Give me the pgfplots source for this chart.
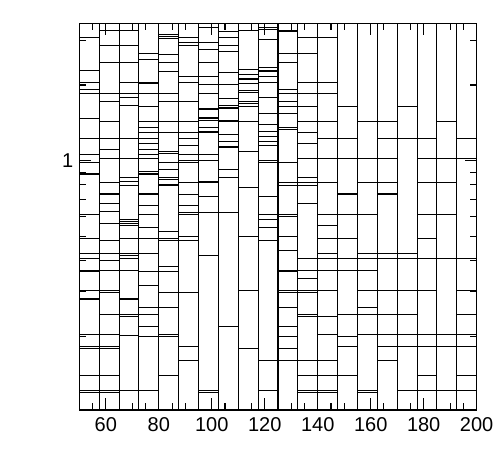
\documentclass[border=0pt]{standalone}
\usepackage{fontspec}
\setmainfont{Liberation Sans}
\usepackage{pgfplots}
\pgfplotsset{compat=1.18}
\pgfplotsset{strip/.style={only marks, mark size=0pt, mark options={draw=none,fill=none}, black,
  error bars/.cd, x dir=both, x fixed=3.75, error mark=none,
  error bar style={line width=0.8pt, black, solid}}}
\begin{document}
\begin{tikzpicture}
\path[use as bounding box] (-59.5pt,-46.5pt) rectangle (312.5pt,307.5pt);
\begin{axis}[
  at={(0,0)}, anchor=south west,
  scale only axis, width=298pt, height=290pt,
  xmin=50, xmax=200, ymin=0.1015, ymax=3.52, ymode=log,
  xtick={60,80,...,200},
  minor xtick={55,65,70,75,85,90,95,105,110,115,125,130,135,145,150,155,165,170,175,185,190,195},
  ytick={1}, yticklabels={1},
  minor ytick={0.2,0.3,0.4,0.5,0.6,0.7,0.8,0.9,2,3},
  major tick length=9pt, minor tick length=4.9pt,
  tick style={black, line width=0.8pt},
  axis line style={line width=0.9pt},
  tick label style={font=\fontsize{15}{18}\selectfont},
  xticklabel style={yshift=-2pt},
  yticklabel style={xshift=-1pt},
  /pgf/number format/assume math mode=true,
  unbounded coords=jump,
]
% strip boundaries
\addplot[black, line width=0.8pt] coordinates {
(57.5,0.1015) (57.5,3.52) (57.5,nan)
(65,0.1015) (65,3.52) (65,nan)
(72.5,0.1015) (72.5,3.52) (72.5,nan)
(80,0.1015) (80,3.52) (80,nan)
(87.5,0.1015) (87.5,3.52) (87.5,nan)
(95,0.1015) (95,3.52) (95,nan)
(102.5,0.1015) (102.5,3.52) (102.5,nan)
(110,0.1015) (110,3.52) (110,nan)
(117.5,0.1015) (117.5,3.52) (117.5,nan)
(125,0.1015) (125,3.52) (125,nan)
(132.5,0.1015) (132.5,3.52) (132.5,nan)
(140,0.1015) (140,3.52) (140,nan)
(147.5,0.1015) (147.5,3.52) (147.5,nan)
(155,0.1015) (155,3.52) (155,nan)
(162.5,0.1015) (162.5,3.52) (162.5,nan)
(170,0.1015) (170,3.52) (170,nan)
(177.5,0.1015) (177.5,3.52) (177.5,nan)
(185,0.1015) (185,3.52) (185,nan)
(192.5,0.1015) (192.5,3.52)
};
% strip 1
\addplot[strip] coordinates {(53.75,3.104) (53.75,2.279) (53.75,2.050) (53.75,1.926) (53.75,1.855) (53.75,1.476) (53.75,1.228) (53.75,1.055) (53.75,0.984) (53.75,0.884) (53.75,0.608) (53.75,0.490) (53.75,0.427) (53.75,0.408) (53.75,0.364) (53.75,0.360) (53.75,0.304) (53.75,0.281) (53.75,0.2032) (53.75,0.1824) (53.75,0.1789) (53.75,0.1397) (53.75,0.1219) (53.75,0.1195)};
% strip 2
\addplot[strip] coordinates {(61.25,3.302) (61.25,2.877) (61.25,2.461) (61.25,1.855) (61.25,1.721) (61.25,1.432) (61.25,1.228) (61.25,1.111) (61.25,1.022) (61.25,0.819) (61.25,0.736) (61.25,0.677) (61.25,0.627) (61.25,0.562) (61.25,0.482) (61.25,0.427) (61.25,0.399) (61.25,0.364) (61.25,0.304) (61.25,0.299) (61.25,0.2445) (61.25,0.2032) (61.25,0.1824) (61.25,0.1789) (61.25,0.1397) (61.25,0.1219) (61.25,0.1195)};
% strip 3
\addplot[strip] coordinates {(68.75,3.302) (68.75,2.877) (68.75,2.461) (68.75,2.045) (68.75,1.855) (68.75,1.787) (68.75,1.661) (68.75,1.228) (68.75,1.022) (68.75,0.858) (68.75,0.827) (68.75,0.797) (68.75,0.584) (68.75,0.574) (68.75,0.562) (68.75,0.550) (68.75,0.490) (68.75,0.427) (68.75,0.418) (68.75,0.408) (68.75,0.364) (68.75,0.281) (68.75,0.2445) (68.75,0.240) (68.75,0.201) (68.75,0.1219)};
% strip 4
\addplot[strip] coordinates {(76.25,2.678) (76.25,2.537) (76.25,2.050) (76.25,2.026) (76.25,1.855) (76.25,1.647) (76.25,1.432) (76.25,1.357) (76.25,1.295) (76.25,1.228) (76.25,1.170) (76.25,1.111) (76.25,1.055) (76.25,1.022) (76.25,0.907) (76.25,0.884) (76.25,0.742) (76.25,0.736) (76.25,0.663) (76.25,0.608) (76.25,0.543) (76.25,0.490) (76.25,0.427) (76.25,0.360) (76.25,0.319) (76.25,0.260) (76.25,0.2445) (76.25,0.2184) (76.25,0.200) (76.25,0.1219)};
% strip 5
\addplot[strip] coordinates {(83.75,3.170) (83.75,3.118) (83.75,3.056) (83.75,2.656) (83.75,2.461) (83.75,2.268) (83.75,1.855) (83.75,1.721) (83.75,1.432) (83.75,1.295) (83.75,1.088) (83.75,1.071) (83.75,0.984) (83.75,0.923) (83.75,0.858) (83.75,0.844) (83.75,0.806) (83.75,0.797) (83.75,0.521) (83.75,0.490) (83.75,0.482) (83.75,0.379) (83.75,0.360) (83.75,0.299) (83.75,0.260) (83.75,0.2032) (83.75,0.200) (83.75,0.1397)};
% strip 6
\addplot[strip] coordinates {(91.25,3.090) (91.25,2.957) (91.25,2.877) (91.25,2.160) (91.25,2.050) (91.25,1.721) (91.25,1.426) (91.25,1.295) (91.25,1.228) (91.25,1.147) (91.25,1.055) (91.25,0.998) (91.25,0.984) (91.25,0.819) (91.25,0.732) (91.25,0.663) (91.25,0.623) (91.25,0.608) (91.25,0.499) (91.25,0.482) (91.25,0.299) (91.25,0.1824) (91.25,0.1603)};
% strip 7
\addplot[strip] coordinates {(98.75,3.386) (98.75,2.957) (98.75,2.768) (98.75,2.461) (98.75,2.160) (98.75,2.013) (98.75,1.855) (98.75,1.604) (98.75,1.487) (98.75,1.474) (98.75,1.440) (98.75,1.357) (98.75,1.307) (98.75,1.295) (98.75,1.055) (98.75,0.998) (98.75,0.827) (98.75,0.819) (98.75,0.719) (98.75,0.623) (98.75,0.418) (98.75,0.1219) (98.75,0.1195)};
% strip 8
\addplot[strip] coordinates {(106.25,3.264) (106.25,3.095) (106.25,2.877) (106.25,2.725) (106.25,2.246) (106.25,2.013) (106.25,1.766) (106.25,1.661) (106.25,1.629) (106.25,1.618) (106.25,1.440) (106.25,1.432) (106.25,1.273) (106.25,1.195) (106.25,1.132) (106.25,0.923) (106.25,0.858) (106.25,0.623) (106.25,0.2184)};
% strip 9
\addplot[strip] coordinates {(113.75,3.303) (113.75,3.285) (113.75,2.304) (113.75,2.207) (113.75,2.112) (113.75,2.026) (113.75,1.905) (113.75,1.869) (113.75,1.721) (113.75,1.682) (113.75,1.647) (113.75,1.432) (113.75,1.088) (113.75,0.782) (113.75,0.499) (113.75,0.304) (113.75,0.1789)};
% strip 10
\addplot[strip] coordinates {(121.25,3.393) (121.25,3.324) (121.25,3.034) (121.25,2.346) (121.25,2.287) (121.25,2.268) (121.25,2.160) (121.25,2.050) (121.25,1.787) (121.25,1.539) (121.25,1.394) (121.25,1.305) (121.25,1.252) (121.25,1.195) (121.25,1.147) (121.25,0.998) (121.25,0.984) (121.25,0.719) (121.25,0.608) (121.25,0.584) (121.25,0.543) (121.25,0.482) (121.25,0.1603) (121.25,0.1219)};
% strip 11
\addplot[strip] coordinates {(128.75,3.309) (128.75,3.279) (128.75,2.678) (128.75,2.461) (128.75,1.926) (128.75,1.855) (128.75,1.721) (128.75,1.647) (128.75,1.539) (128.75,1.357) (128.75,1.335) (128.75,0.984) (128.75,0.819) (128.75,0.797) (128.75,0.608) (128.75,0.598) (128.75,0.499) (128.75,0.440) (128.75,0.364) (128.75,0.360) (128.75,0.303) (128.75,0.299) (128.75,0.260) (128.75,0.2184) (128.75,0.200) (128.75,0.1789) (128.75,0.1603)};
% strip 12
\addplot[strip] coordinates {(136.25,3.095) (136.25,2.678) (136.25,2.050) (136.25,1.855) (136.25,1.647) (136.25,1.432) (136.25,1.295) (136.25,1.170) (136.25,1.022) (136.25,0.858) (136.25,0.819) (136.25,0.797) (136.25,0.675) (136.25,0.408) (136.25,0.364) (136.25,0.340) (136.25,0.303) (136.25,0.299) (136.25,0.2445) (136.25,0.240) (136.25,0.1603) (136.25,0.1397) (136.25,0.1219) (136.25,0.1195)};
% strip 13
\addplot[strip] coordinates {(143.75,3.095) (143.75,2.050) (143.75,1.855) (143.75,1.432) (143.75,1.228) (143.75,1.022) (143.75,0.819) (143.75,0.608) (143.75,0.550) (143.75,0.490) (143.75,0.427) (143.75,0.408) (143.75,0.364) (143.75,0.303) (143.75,0.240) (143.75,0.2032) (143.75,0.1603) (143.75,0.1397) (143.75,0.1219) (143.75,0.1195)};
% strip 14
\addplot[strip] coordinates {(151.25,1.647) (151.25,1.228) (151.25,1.022) (151.25,0.736) (151.25,0.608) (151.25,0.490) (151.25,0.408) (151.25,0.364) (151.25,0.2445) (151.25,0.200) (151.25,0.1824) (151.25,0.1397)};
% strip 15
\addplot[strip] coordinates {(158.75,1.432) (158.75,1.022) (158.75,0.819) (158.75,0.608) (158.75,0.427) (158.75,0.408) (158.75,0.364) (158.75,0.304) (158.75,0.260) (158.75,0.2445) (158.75,0.2032) (158.75,0.1219) (158.75,0.1195)};
% strip 16
\addplot[strip] coordinates {(166.25,1.432) (166.25,1.228) (166.25,1.022) (166.25,0.819) (166.25,0.736) (166.25,0.427) (166.25,0.408) (166.25,0.303) (166.25,0.2445) (166.25,0.2032) (166.25,0.1824) (166.25,0.1603)};
% strip 17
\addplot[strip] coordinates {(173.75,1.647) (173.75,1.228) (173.75,0.427) (173.75,0.408) (173.75,0.303) (173.75,0.2445) (173.75,0.2032) (173.75,0.1824) (173.75,0.1219)};
% strip 18
\addplot[strip] coordinates {(181.25,1.228) (181.25,1.022) (181.25,0.819) (181.25,0.608) (181.25,0.490) (181.25,0.408) (181.25,0.304) (181.25,0.2032) (181.25,0.1824) (181.25,0.1397) (181.25,0.1219)};
% strip 19
\addplot[strip] coordinates {(188.75,1.432) (188.75,1.022) (188.75,0.819) (188.75,0.608) (188.75,0.408) (188.75,0.2032) (188.75,0.1824) (188.75,0.1219)};
% strip 20
\addplot[strip] coordinates {(196.25,1.228) (196.25,1.022) (196.25,0.408) (196.25,0.303) (196.25,0.2445) (196.25,0.2032) (196.25,0.1824) (196.25,0.1397) (196.25,0.1219)};
\end{axis}
\end{tikzpicture}
\end{document}
